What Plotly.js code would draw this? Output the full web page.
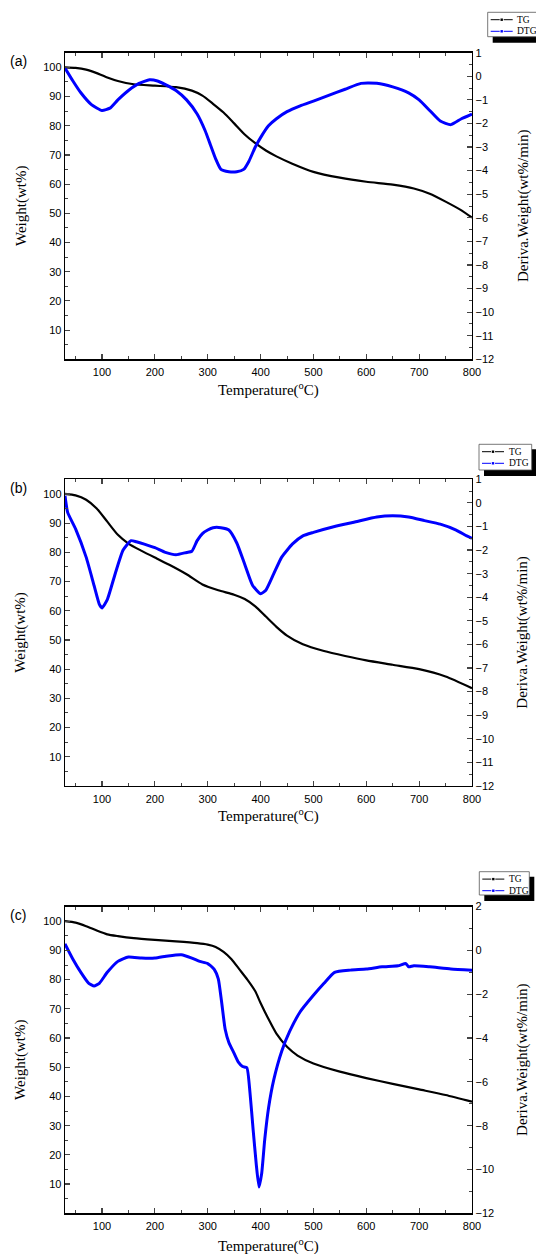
<!DOCTYPE html>
<html>
<head>
<meta charset="utf-8">
<script src="https://cdn.plot.ly/plotly-3.0.1.min.js"></script>
<style>html,body{margin:0;padding:0;background:#fff;}#chart{width:536px;height:1254px;}</style>
</head>
<body>
<div id="chart"></div>
<script>
// ---------- DATA ----------
const panelLabels = ["(a)", "(b)", "(c)"];
const seriesNames = ["TG", "DTG"];

const tgA_T = [30,50,70,90,110,130,160,200,240,270,290,310,330,350,370,390,410,430,460,500,550,600,650,690,720,750,780,800];
const tgA_W = [100,99.8,99.2,98,96.5,95.3,94.2,93.7,93.2,92,90.3,87.5,84.5,80.8,77,74,71.5,69.5,67,64.2,62.2,60.8,59.8,58.5,56.7,54,51,48.5];
const dtgA_T = [30,45,60,80,100,115,130,150,170,190,205,220,240,260,280,295,305,315,325,340,355,368,378,390,400,415,430,450,475,500,530,560,590,620,650,680,700,720,740,760,780,800];
const dtgA_D = [0.35,-0.2,-0.7,-1.2,-1.45,-1.35,-1.0,-0.6,-0.3,-0.15,-0.2,-0.35,-0.6,-1.0,-1.6,-2.3,-2.9,-3.5,-3.95,-4.05,-4.05,-3.95,-3.6,-3.0,-2.6,-2.1,-1.8,-1.5,-1.25,-1.05,-0.8,-0.55,-0.3,-0.3,-0.45,-0.7,-1.0,-1.45,-1.9,-2.05,-1.8,-1.6];

const tgB_T = [30,50,70,90,110,130,150,175,200,230,260,290,320,350,370,390,410,430,450,480,520,560,600,650,700,750,800];
const tgB_W = [100,99.5,98,95,90.5,86,83,80.5,78.2,75.5,72.5,69,67,65.5,64,61.5,58,54.5,51.5,48.5,46.2,44.5,43,41.5,40,37.5,33.5];
const dtgB_T = [30,35,50,70,85,95,100,110,125,140,155,165,180,200,220,240,260,270,280,290,300,310,325,340,355,370,385,400,410,425,440,460,480,500,540,580,620,650,680,710,740,770,790,800];
const dtgB_D = [0.3,-0.4,-1.1,-2.3,-3.5,-4.3,-4.45,-4.1,-3.0,-2.0,-1.6,-1.65,-1.75,-1.9,-2.1,-2.2,-2.1,-2.05,-1.6,-1.3,-1.15,-1.05,-1.05,-1.15,-1.7,-2.6,-3.5,-3.85,-3.7,-3.0,-2.3,-1.75,-1.4,-1.25,-1.0,-0.8,-0.6,-0.55,-0.6,-0.75,-0.9,-1.15,-1.4,-1.5];

const tgC_T = [30,50,70,90,110,130,160,200,240,280,300,315,330,345,360,375,390,400,415,430,450,470,500,550,600,650,700,750,800];
const tgC_W = [100,99.5,98.3,96.8,95.5,94.9,94.2,93.6,93.1,92.5,92,91.2,89.5,87,83.5,80,76,72,66.5,61.5,57,54,51.3,48.5,46.3,44.3,42.4,40.5,38.2];
const dtgC_T = [30,45,60,75,85,95,110,130,150,175,200,225,250,270,285,300,312,320,326,333,340,350,358,366,374,380,386,392,397,402,408,415,425,440,455,475,500,520,540,570,600,630,660,675,680,690,720,760,800];
const dtgC_D = [0.3,-0.4,-1.0,-1.5,-1.62,-1.5,-1.0,-0.5,-0.3,-0.35,-0.35,-0.25,-0.2,-0.35,-0.5,-0.6,-0.85,-1.3,-2.3,-3.6,-4.2,-4.7,-5.1,-5.3,-5.35,-6.5,-8.2,-9.8,-10.8,-10.2,-8.6,-7.2,-5.9,-4.6,-3.7,-2.8,-2.05,-1.5,-1.0,-0.9,-0.85,-0.75,-0.7,-0.6,-0.75,-0.7,-0.75,-0.85,-0.9];

const xTicks = [100,200,300,400,500,600,700,800];
const wTicks = [10,20,30,40,50,60,70,80,90,100];
const dTicksAB = [-12,-11,-10,-9,-8,-7,-6,-5,-4,-3,-2,-1,0,1];
const dTicksC = [-12,-10,-8,-6,-4,-2,0,2];

const xTitle = "Temperature(<sup>o</sup>C)";
const yTitleL = "Weight(wt%)";
const yTitleR = "Deriva.Weight(wt%/min)";

// ---------- LAYOUT ----------
const W = 536, H = 1254;
const px = x => x / W, py = y => 1 - y / H;
const X0 = 65, X1 = 472;
const panels = [
  {top: 52.7, bot: 359.3, dRange: [-12, 1], dTicks: dTicksAB, dMinor: 0.5, leg: {x0: 487.7, y0: 12.3, x1: 545, y1: 36.7}},
  {top: 479.3, bot: 786, dRange: [-12, 1], dTicks: dTicksAB, dMinor: 0.5, leg: {x0: 479, y0: 444.3, x1: 531.7, y1: 470}},
  {top: 906.6, bot: 1213.3, dRange: [-12, 2], dTicks: dTicksC, dMinor: 1, leg: {x0: 479.3, y0: 871.7, x1: 529.3, y1: 895}}
];
const tgData = [[tgA_T, tgA_W], [tgB_T, tgB_W], [tgC_T, tgC_W]];
const dtgData = [[dtgA_T, dtgA_D], [dtgB_T, dtgB_D], [dtgC_T, dtgC_D]];

const tickFont = {family: "Liberation Sans, Arial, sans-serif", size: 11, color: "#000"};
const serif = "Liberation Serif, Times New Roman, serif";
const layout = {
  width: W, height: H,
  margin: {l: 0, r: 0, t: 0, b: 0},
  paper_bgcolor: "#fff", plot_bgcolor: "rgba(0,0,0,0)",
  showlegend: false,
  shapes: [], annotations: []
};
const traces = [];

panels.forEach((p, i) => {
  const xn = i === 0 ? "x" : "x" + (i + 1);
  const yl = i === 0 ? "y" : "y" + (2 * i + 1);
  const yr = "y" + (2 * i + 2);
  const xKey = "xaxis" + (i === 0 ? "" : (i + 1));
  const ylKey = "yaxis" + (i === 0 ? "" : (2 * i + 1));
  const yrKey = "yaxis" + (2 * i + 2);
  const dom = [py(p.bot), py(p.top)];
  layout[xKey] = {
    domain: [px(X0), px(X1)], anchor: yl, range: [30, 800],
    tickmode: "array", tickvals: xTicks, ticks: "inside", ticklen: 5, tickwidth: 1.2,
    minor: {tickmode: "linear", tick0: 0, dtick: 50, ticks: "inside", ticklen: 3, tickwidth: 1},
    showline: true, linewidth: 1.3, linecolor: "#000", mirror: "ticks",
    showgrid: false, zeroline: false, tickfont: tickFont, ticklabelstandoff: 2
  };
  layout[ylKey] = {
    domain: dom, anchor: xn, range: [0, 105],
    tickmode: "array", tickvals: wTicks, ticks: "inside", ticklen: 5, tickwidth: 1.2,
    minor: {tickmode: "linear", tick0: 0, dtick: 5, ticks: "inside", ticklen: 3, tickwidth: 1},
    showline: true, linewidth: 1.3, linecolor: "#000",
    showgrid: false, zeroline: false, tickfont: tickFont
  };
  layout[yrKey] = {
    domain: dom, anchor: xn, overlaying: yl, side: "right", range: p.dRange,
    tickmode: "array", tickvals: p.dTicks, ticks: "inside", ticklen: 5, tickwidth: 1.2,
    minor: {tickmode: "linear", tick0: 0, dtick: p.dMinor, ticks: "inside", ticklen: 3, tickwidth: 1},
    showline: true, linewidth: 1.3, linecolor: "#000",
    showgrid: false, zeroline: false, tickfont: tickFont
  };
  traces.push({
    type: "scatter", mode: "lines", name: seriesNames[0],
    x: tgData[i][0], y: tgData[i][1], xaxis: xn, yaxis: yl,
    line: {color: "#000", width: 2.2, shape: "spline", smoothing: 0.6}
  });
  traces.push({
    type: "scatter", mode: "lines", name: seriesNames[1],
    x: dtgData[i][0], y: dtgData[i][1], xaxis: xn, yaxis: yr,
    line: {color: "#0000ff", width: 3, shape: "spline", smoothing: 0.5}
  });

  // titles
  const mid = (p.top + p.bot) / 2;
  layout.annotations.push({xref: "paper", yref: "paper", x: px(21), y: py(mid), text: yTitleL, textangle: -90,
    showarrow: false, font: {family: serif, size: 15, color: "#000"}, xanchor: "center", yanchor: "middle"});
  layout.annotations.push({xref: "paper", yref: "paper", x: px(523), y: py(mid), text: yTitleR, textangle: -90,
    showarrow: false, font: {family: serif, size: 15, color: "#000"}, xanchor: "center", yanchor: "middle"});
  layout.annotations.push({xref: "paper", yref: "paper", x: px((X0 + X1) / 2), y: py(p.bot + (i === 2 ? 32 : 30)), text: xTitle,
    showarrow: false, font: {family: serif, size: 15, color: "#000"}, xanchor: "center", yanchor: "middle"});
  layout.annotations.push({xref: "paper", yref: "paper", x: px(18), y: py(p.top + 8.5), text: panelLabels[i],
    showarrow: false, font: {family: "Liberation Sans, Arial, sans-serif", size: 14, color: "#000"}, xanchor: "center", yanchor: "middle"});

  // legend box (drawn with shapes)
  const L = p.leg;
  layout.shapes.push({type: "rect", xref: "paper", yref: "paper", x0: px(L.x0 + 5), x1: px(L.x1 + 5), y0: py(L.y1 + 6), y1: py(L.y0 + 5),
    fillcolor: "#000", line: {width: 0}});
  layout.shapes.push({type: "rect", xref: "paper", yref: "paper", x0: px(L.x0), x1: px(L.x1), y0: py(L.y1), y1: py(L.y0),
    fillcolor: "#fff", line: {color: "#555", width: 0.8}});
  const rows = [L.y0 + 7.4, L.y0 + 19];
  const cols = ["#000", "#0000ff"];
  rows.forEach((ry, k) => {
    layout.shapes.push({type: "line", xref: "paper", yref: "paper", x0: px(L.x0 + 3), x1: px(L.x0 + 12), y0: py(ry), y1: py(ry), line: {color: cols[k], width: 1}});
    layout.shapes.push({type: "line", xref: "paper", yref: "paper", x0: px(L.x0 + 16), x1: px(L.x0 + 25), y0: py(ry), y1: py(ry), line: {color: cols[k], width: 1}});
    layout.shapes.push({type: "rect", xref: "paper", yref: "paper", x0: px(L.x0 + 12.8), x1: px(L.x0 + 15.2), y0: py(ry + 1.2), y1: py(ry - 1.2), fillcolor: cols[k], line: {width: 0}});
    layout.annotations.push({xref: "paper", yref: "paper", x: px(L.x0 + 27.5), y: py(ry), text: seriesNames[k], showarrow: false,
      font: {family: serif, size: 9.5, color: "#000"}, xanchor: "left", yanchor: "middle"});
  });
});

Plotly.newPlot("chart", traces, layout, {staticPlot: true, displayModeBar: false});
</script>
</body>
</html>
